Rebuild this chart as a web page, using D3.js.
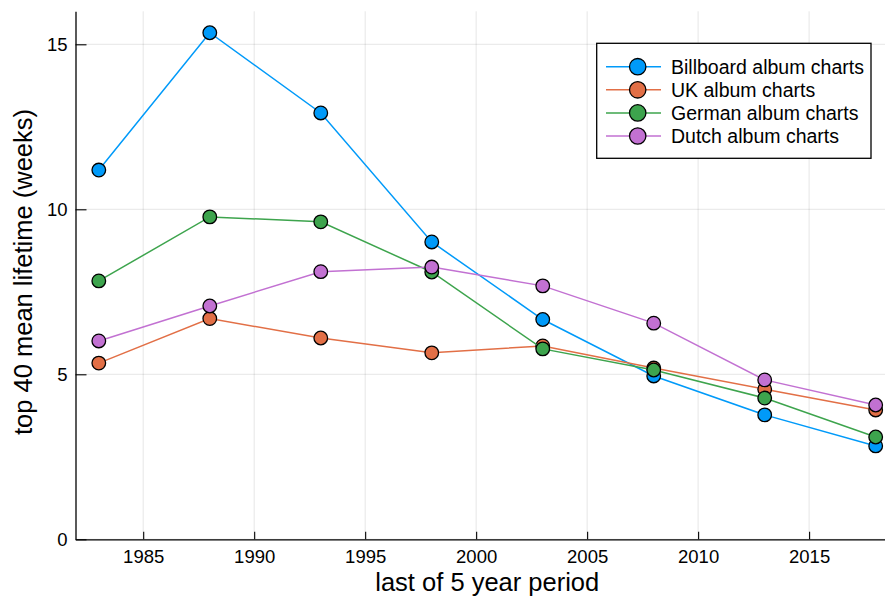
<!DOCTYPE html>
<html>
<head>
<meta charset="utf-8">
<script src="https://cdn.jsdelivr.net/npm/d3@7"></script>
<style>
  html, body { margin: 0; padding: 0; background: #fff; }
  svg { display: block; font-family: "Liberation Sans", Arial, sans-serif; }
</style>
</head>
<body>
<div id="chart"></div>
<script>
const years = [1983, 1988, 1993, 1998, 2003, 2008, 2013, 2018];
const billboard = [11.19, 15.35, 12.92, 9.01, 6.66, 4.95, 3.77, 2.83];
const uk = [5.34, 6.69, 6.10, 5.65, 5.86, 5.19, 4.55, 3.92];
const german = [7.83, 9.77, 9.62, 8.10, 5.77, 5.13, 4.28, 3.10];
const dutch = [6.01, 7.07, 8.11, 8.25, 7.68, 6.55, 4.83, 4.07];
const seriesNames = ["Billboard album charts", "UK album charts", "German album charts", "Dutch album charts"];
const seriesColors = ["#009af9", "#e26f46", "#3da44d", "#c271d2"];
const xTicks = [1985, 1990, 1995, 2000, 2005, 2010, 2015];
const yTicks = [0, 5, 10, 15];

const FONT = "Liberation Sans, Arial, sans-serif";
const width = 885;
const height = 597;
const margin = { top: 11.3, right: -14, bottom: 57.7, left: 75.5 };

const svg = d3.select("#chart")
  .append("svg")
  .attr("width", width)
  .attr("height", height)
  .attr("font-family", FONT);

const x = d3.scaleLinear()
  .domain([1981.95, 2019.05])
  .range([margin.left, width - margin.right]);

const y = d3.scaleLinear()
  .domain([0, 16])
  .range([height - margin.bottom, margin.top]);

// grid
svg.append("g")
  .selectAll("line")
  .data(xTicks)
  .join("line")
  .attr("x1", d => x(d)).attr("x2", d => x(d))
  .attr("y1", y(0)).attr("y2", y(16))
  .attr("stroke", "#000").attr("stroke-opacity", 0.1).attr("stroke-width", 1);

svg.append("g")
  .selectAll("line")
  .data(yTicks)
  .join("line")
  .attr("x1", x.range()[0]).attr("x2", x.range()[1])
  .attr("y1", d => y(d)).attr("y2", d => y(d))
  .attr("stroke", "#000").attr("stroke-opacity", 0.1).attr("stroke-width", 1);

// axes
const xAxis = g => g
  .attr("transform", `translate(0,${y(0)})`)
  .call(d3.axisBottom(x).tickValues(xTicks).tickFormat(d3.format("d")).tickSizeInner(-7.5).tickSizeOuter(0).tickPadding(11))
  .attr("font-family", FONT)
  .attr("font-size", 18.5)
  .call(g => g.select(".domain").attr("stroke-width", 1.3))
  .call(g => g.selectAll(".tick line").attr("stroke-width", 1.1))
  .call(g => g.selectAll("text").attr("fill", "#000"));

const yAxis = g => g
  .attr("transform", `translate(${margin.left},0)`)
  .call(d3.axisLeft(y).tickValues(yTicks).tickSizeInner(-11).tickSizeOuter(0).tickPadding(8))
  .attr("font-family", FONT)
  .attr("font-size", 18.5)
  .call(g => g.select(".domain").attr("stroke-width", 1.3))
  .call(g => g.selectAll(".tick line").attr("stroke-width", 1.1))
  .call(g => g.selectAll("text").attr("fill", "#000"));

svg.append("g").call(xAxis);
svg.append("g").call(yAxis);

// axis labels
svg.append("text")
  .attr("x", x((1981.95 + 2019.05) / 2))
  .attr("y", 591)
  .attr("text-anchor", "middle")
  .attr("font-size", 25.5)
  .attr("fill", "#000")
  .text("last of 5 year period");

svg.append("text")
  .attr("transform", "translate(32,272) rotate(-90)")
  .attr("text-anchor", "middle")
  .attr("font-size", 25.5)
  .attr("fill", "#000")
  .text("top 40 mean lifetime (weeks)");

// series
const allSeries = [billboard, uk, german, dutch];
const line = d3.line()
  .x((d, i) => x(years[i]))
  .y(d => y(d));

allSeries.forEach((vals, k) => {
  svg.append("path")
    .datum(vals)
    .attr("fill", "none")
    .attr("stroke", seriesColors[k])
    .attr("stroke-width", 1.5)
    .attr("d", line);

  svg.append("g")
    .selectAll("circle")
    .data(vals)
    .join("circle")
    .attr("cx", (d, i) => x(years[i]))
    .attr("cy", d => y(d))
    .attr("r", 6.8)
    .attr("fill", seriesColors[k])
    .attr("stroke", "#000")
    .attr("stroke-width", 1.3);
});

// legend
const legend = svg.append("g");
legend.append("rect")
  .attr("x", 596.7).attr("y", 43.3)
  .attr("width", 274.3).attr("height", 115)
  .attr("fill", "#fff")
  .attr("stroke", "#000")
  .attr("stroke-width", 1.3);

seriesNames.forEach((name, k) => {
  const cy = 66.7 + k * 23.1;
  legend.append("line")
    .attr("x1", 606).attr("x2", 661)
    .attr("y1", cy).attr("y2", cy)
    .attr("stroke", seriesColors[k])
    .attr("stroke-width", 1.5);
  legend.append("circle")
    .attr("cx", 637.7).attr("cy", cy)
    .attr("r", 8.2)
    .attr("fill", seriesColors[k])
    .attr("stroke", "#000")
    .attr("stroke-width", 1.3);
  legend.append("text")
    .attr("x", 671).attr("y", cy)
    .attr("dy", "0.35em")
    .attr("font-size", 19.5)
    .attr("fill", "#000")
    .text(name);
});
</script>
</body>
</html>
